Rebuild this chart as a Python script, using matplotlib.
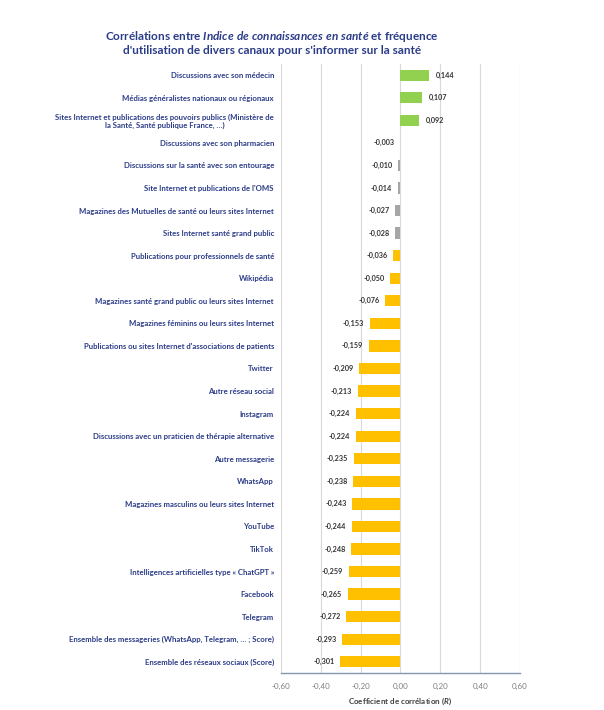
import numpy as np
import matplotlib.pyplot as plt

plt.rcParams['font.family'] = ['Lato', 'DejaVu Sans']
plt.rcParams['mathtext.fontset'] = 'custom'
plt.rcParams['mathtext.rm'] = 'Lato:bold'
plt.rcParams['mathtext.it'] = 'Lato:italic:bold'

# canaux d'information (de haut en bas)
categories = [
    "Discussions avec son médecin",
    "Médias généralistes nationaux ou régionaux",
    "Sites Internet et publications des pouvoirs publics (Ministère de\nla Santé, Santé publique France, …)",
    "Discussions avec son pharmacien",
    "Discussions sur la santé avec son entourage",
    "Site Internet et publications de l'OMS",
    "Magazines des Mutuelles de santé ou leurs sites Internet",
    "Sites Internet santé grand public",
    "Publications pour professionnels de santé",
    "Wikipédia",
    "Magazines santé grand public ou leurs sites Internet",
    "Magazines féminins ou leurs sites Internet",
    "Publications ou sites Internet d'associations de patients",
    "Twitter",
    "Autre réseau social",
    "Instagram",
    "Discussions avec un praticien de thérapie alternative",
    "Autre messagerie",
    "WhatsApp",
    "Magazines masculins ou leurs sites Internet",
    "YouTube",
    "TikTok",
    "Intelligences artificielles type « ChatGPT »",
    "Facebook",
    "Telegram",
    "Ensemble des messageries (WhatsApp, Telegram, … ; Score)",
    "Ensemble des réseaux sociaux (Score)",
]
correlations = [0.144, 0.107, 0.092, -0.003, -0.010, -0.014, -0.027, -0.028,
                -0.036, -0.050, -0.076, -0.153, -0.159, -0.209, -0.213, -0.224,
                -0.224, -0.235, -0.238, -0.243, -0.244, -0.248, -0.259, -0.265,
                -0.272, -0.293, -0.301]
xticks = [-0.6, -0.4, -0.2, 0.0, 0.2, 0.4, 0.6]
xtick_labels = ["-0,60", "-0,40", "-0,20", "0,00", "0,20", "0,40", "0,60"]

navy = '#2B3C88'

def bar_color(v):
    if v > 0:
        return '#92D050'
    if v > -0.03:
        return '#A6A6A6'
    return '#FFC000'

fig = plt.figure(figsize=(6.04, 7.10), dpi=100)
ax = fig.add_axes([0.465, 0.052, 0.396, 0.858])

y = np.arange(len(categories))
colors = [bar_color(v) for v in correlations]
ax.barh(y, correlations, height=0.5, color=colors, zorder=3)

# étiquettes de valeur
for yi, v in zip(y, correlations):
    txt = ('%.3f' % v).replace('.', ',')
    if v >= 0:
        ax.annotate(txt, (v, yi), xytext=(5, 0), textcoords='offset points',
                    ha='left', va='center', fontsize=5.2, color='#333333', fontweight='bold')
    else:
        ax.annotate(txt, (v, yi), xytext=(-4, 0), textcoords='offset points',
                    ha='right', va='center', fontsize=5.2, color='#333333', fontweight='bold')

ax.set_xlim(-0.6, 0.6)
ax.set_ylim(len(categories) - 0.5, -0.5)
ax.set_xticks(xticks)
ax.set_xticklabels(xtick_labels, fontsize=5.8, color='#7F7F7F')
ax.set_yticks(y)
ax.set_yticklabels(categories, fontsize=5.6, color=navy, fontweight='bold',
                   multialignment='center')
ax.tick_params(axis='y', length=0, pad=5)
ax.tick_params(axis='x', length=0, pad=7)

ax.grid(axis='x', color='#D9D9D9', linewidth=0.8, zorder=0)
for s in ['top', 'right', 'left']:
    ax.spines[s].set_visible(False)
ax.spines['bottom'].set_color('#8496B0')
ax.spines['bottom'].set_linewidth(1.0)

ax.set_xlabel(r"Coefficient de corrélation ($\mathit{R}$)", fontsize=5.8,
              color='#404040', fontweight='bold', labelpad=4)

fig.text(0.45, 0.921,
         "Corrélations entre $\\mathit{Indice\\ de\\ connaissances\\ en\\ santé}$ et fréquence\n"
         "d'utilisation de divers canaux pour s'informer sur la santé",
         ha='center', va='bottom', fontsize=8.5, color=navy, fontweight='bold',
         linespacing=1.15)

fig.savefig('out.png', dpi=100, facecolor='white')
